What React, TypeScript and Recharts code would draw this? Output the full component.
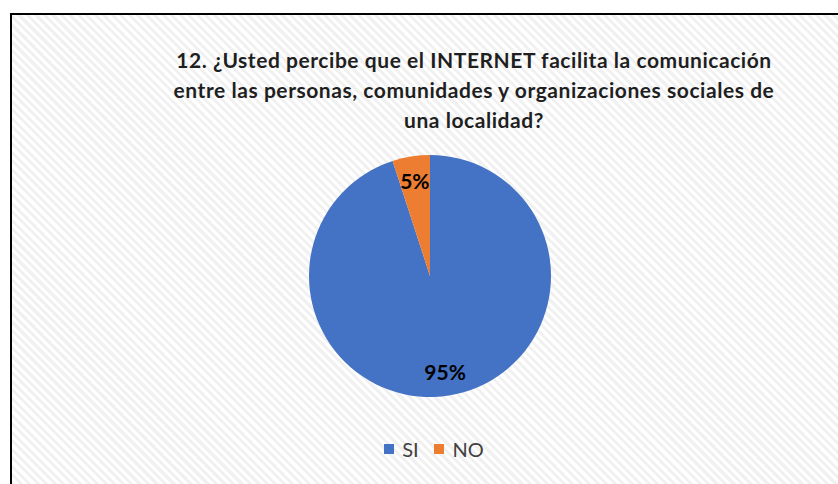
import React from "react";
import { PieChart, Pie, Cell, Legend } from "recharts";

const categories = ["SI", "NO"];
const values = [95, 5];
const labels = ["95%", "5%"];
const colors = ["#4472C4", "#ED7D31"];
const titleLines = [
  "12. ¿Usted percibe que el INTERNET facilita la comunicación",
  "entre las personas, comunidades y organizaciones sociales de",
  "una localidad?",
];

const data = categories.map((name, i) => ({ name, value: values[i], label: labels[i] }));

const RADIAN = Math.PI / 180;
const renderLabel = (props: any) => {
  const { cx, cy, midAngle, outerRadius, index } = props;
  const r = outerRadius * 0.8;
  const x = cx + r * Math.cos(-midAngle * RADIAN);
  const y = cy + r * Math.sin(-midAngle * RADIAN);
  return (
    <text
      x={x}
      y={y}
      textAnchor="middle"
      dominantBaseline="central"
      fill="#000"
      fontFamily="Lato, 'Open Sans', sans-serif"
      fontWeight={700}
      fontSize={21}
    >
      {data[index].label}
    </text>
  );
};

const renderLegend = () => (
  <div
    style={{
      display: "flex",
      justifyContent: "center",
      alignItems: "center",
      fontFamily: "Lato, 'Open Sans', sans-serif",
      fontSize: 20,
      color: "#404040",
    }}
  >
    {data.map((d, i) => (
      <div key={d.name} style={{ display: "flex", alignItems: "center", marginRight: i === 0 ? 15 : 0 }}>
        <span style={{ width: 10, height: 10, background: colors[i], display: "inline-block", marginRight: i === 0 ? 8 : 9 }} />
        <span>{d.name}</span>
      </div>
    ))}
  </div>
);

export default function App() {
  return (
    <div style={{ position: "absolute", left: 0, top: 0, width: 838, height: 484, overflow: "hidden", background: "#fff" }}>
      <div
        style={{
          position: "absolute",
          left: 10,
          top: 13,
          width: 860,
          height: 500,
          border: "2px solid #000",
          background:
            "repeating-linear-gradient(45deg, #ffffff 0px, #ffffff 3px, #f1f1f1 3px, #f1f1f1 6px)",
        }}
      />
      <div
        style={{
          position: "absolute",
          left: 0,
          top: 45,
          width: 948,
          textAlign: "center",
          fontFamily: "Lato, 'Open Sans', sans-serif",
          fontWeight: 700,
          fontSize: 21,
          letterSpacing: 0.55,
          lineHeight: "30px",
          color: "#1f1f1f",
        }}
      >
        {titleLines.map((t) => (
          <div key={t}>{t}</div>
        ))}
      </div>
      <div style={{ position: "absolute", left: 0, top: 0 }}>
        <PieChart width={838} height={484}>
          <Pie
            data={data}
            dataKey="value"
            nameKey="name"
            cx={425}
            cy={271}
            outerRadius={121}
            startAngle={90}
            endAngle={-270}
            stroke="none"
            label={renderLabel}
            labelLine={false}
            isAnimationActive={false}
          >
            {data.map((d, i) => (
              <Cell key={d.name} fill={colors[i]} />
            ))}
          </Pie>
          <Legend
            content={renderLegend}
            wrapperStyle={{ position: "absolute", left: 0, top: 437, width: 868 }}
          />
        </PieChart>
      </div>
    </div>
  );
}
